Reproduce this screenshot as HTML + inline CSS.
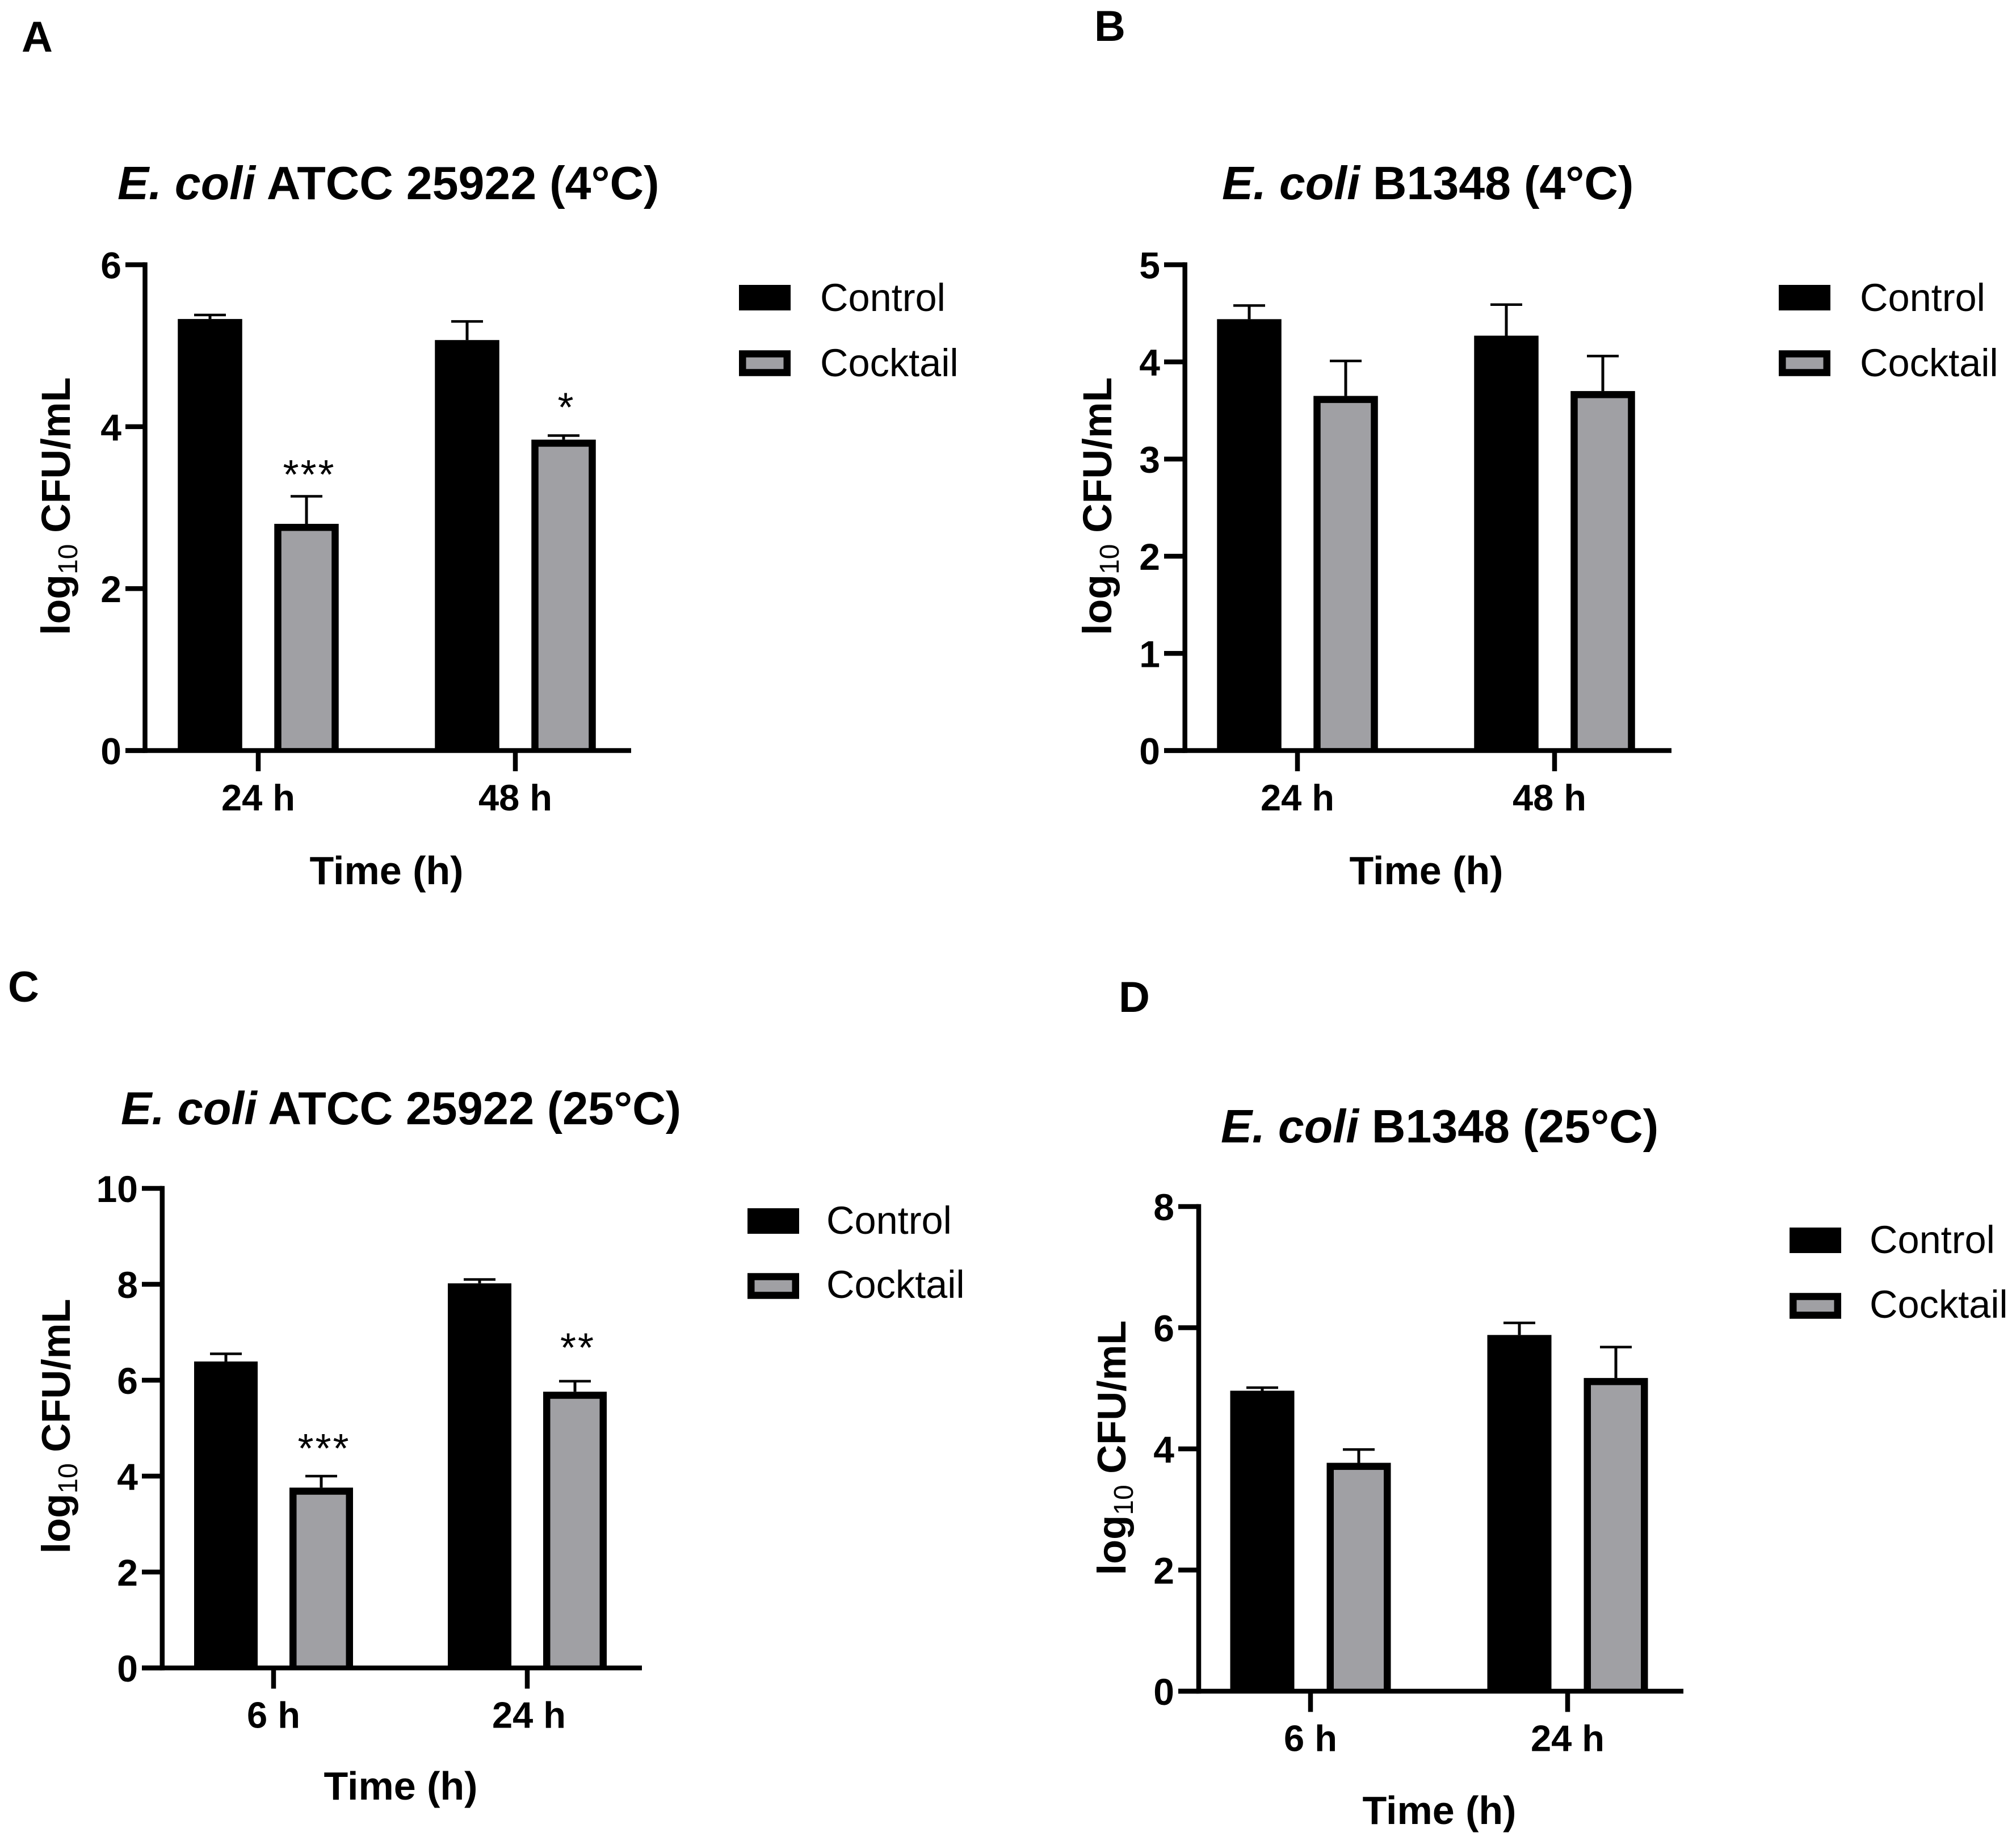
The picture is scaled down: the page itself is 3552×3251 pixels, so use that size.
<!DOCTYPE html>
<html lang="en">
<head>
<meta charset="utf-8">
<title>E. coli CFU counts under control and cocktail treatment</title>
<style>
  html, body { margin: 0; padding: 0; background: #fff; }
  svg { display: block; }
  text { font-family: "Liberation Sans", Arial, sans-serif; fill: #000; }
  .letter { font-size: 76px; font-weight: 700; }
  .title { font-size: 82.5px; font-weight: 700; }
  .axis-title { font-size: 70px; font-weight: 700; }
  .y-title { font-size: 71.5px; font-weight: 700; }
  .legend-text { font-size: 68.5px; font-weight: 400; }
</style>
</head>
<body>
<svg id="figure" xmlns="http://www.w3.org/2000/svg" width="3552" height="3251" viewBox="0 0 3552 3251">
  <rect x="0" y="0" width="3552" height="3251" fill="#ffffff"/>

  <!-- Panel A -->
  <g id="panel-a">
    <text class="letter" x="38" y="91">A</text>
    <text class="title" x="207" y="351"><tspan font-style="italic">E. coli</tspan> ATCC 25922 (4°C)</text>
    <text class="y-title" transform="translate(123,892) rotate(-90)" text-anchor="middle">log<tspan font-size="48" font-weight="400" dy="13">10</tspan><tspan dy="-13"> CFU/mL</tspan></text>
    <text class="axis-title" x="681" y="1558" text-anchor="middle">Time (h)</text>
    <rect x="1302" y="502" width="91" height="45" fill="#000"/>
    <text class="legend-text" x="1445" y="548">Control</text>
    <rect x="1308.25" y="623.5" width="78.5" height="33" fill="#a0a0a4" stroke="#000" stroke-width="12.5"/>
    <text class="legend-text" x="1445" y="663">Cocktail</text>
  </g>

  <!-- Panel B -->
  <g id="panel-b">
    <text class="letter" x="1928" y="72">B</text>
    <text class="title" x="2153" y="351"><tspan font-style="italic">E. coli</tspan> B1348 (4°C)</text>
    <text class="y-title" transform="translate(1958,892) rotate(-90)" text-anchor="middle">log<tspan font-size="48" font-weight="400" dy="13">10</tspan><tspan dy="-13"> CFU/mL</tspan></text>
    <text class="axis-title" x="2513" y="1558" text-anchor="middle">Time (h)</text>
    <rect x="3134" y="502" width="91" height="45" fill="#000"/>
    <text class="legend-text" x="3277" y="548">Control</text>
    <rect x="3140.25" y="623.5" width="78.5" height="33" fill="#a0a0a4" stroke="#000" stroke-width="12.5"/>
    <text class="legend-text" x="3277" y="663">Cocktail</text>
  </g>

  <!-- Panel C -->
  <g id="panel-c">
    <text class="letter" x="14" y="1765">C</text>
    <text class="title" x="213" y="1981" style="font-size:81.4px"><tspan font-style="italic">E. coli</tspan> ATCC 25922 (25°C)</text>
    <text class="y-title" transform="translate(123,2513) rotate(-90)" text-anchor="middle" style="font-size:70.5px">log<tspan font-size="48" font-weight="400" dy="13">10</tspan><tspan dy="-13"> CFU/mL</tspan></text>
    <text class="axis-title" x="706" y="3171" text-anchor="middle">Time (h)</text>
    <rect x="1317" y="2129" width="91" height="45" fill="#000"/>
    <text class="legend-text" x="1456" y="2174">Control</text>
    <rect x="1323.25" y="2249.5" width="78.5" height="33" fill="#a0a0a4" stroke="#000" stroke-width="12.5"/>
    <text class="legend-text" x="1456" y="2287">Cocktail</text>
  </g>

  <!-- Panel D -->
  <g id="panel-d">
    <text class="letter" x="1971" y="1783">D</text>
    <text class="title" x="2151" y="2013"><tspan font-style="italic">E. coli</tspan> B1348 (25°C)</text>
    <text class="y-title" transform="translate(1983,2551) rotate(-90)" text-anchor="middle" style="font-size:70.5px">log<tspan font-size="48" font-weight="400" dy="13">10</tspan><tspan dy="-13"> CFU/mL</tspan></text>
    <text class="axis-title" x="2536" y="3214" text-anchor="middle">Time (h)</text>
    <rect x="3153" y="2163" width="91" height="45" fill="#000"/>
    <text class="legend-text" x="3294" y="2208">Control</text>
    <rect x="3159.25" y="2284.5" width="78.5" height="33" fill="#a0a0a4" stroke="#000" stroke-width="12.5"/>
    <text class="legend-text" x="3294" y="2322">Cocktail</text>
  </g>
</svg>

<script>
// ---- Chart data (log10 CFU/mL) ----
const panelATimes = ['24 h', '48 h'];
const panelAYTicks = [0, 2, 4, 6];
const panelAControl = [5.33, 5.07];
const panelAControlErr = [0.05, 0.23];
const panelACocktail = [2.80, 3.84];
const panelACocktailErr = [0.34, 0.05];
const panelASignificance = ['***', '*'];
const panelASignificanceLevel = [3.6, 4.43];

const panelBTimes = ['24 h', '48 h'];
const panelBYTicks = [0, 1, 2, 3, 4, 5];
const panelBControl = [4.44, 4.27];
const panelBControlErr = [0.14, 0.32];
const panelBCocktail = [3.65, 3.70];
const panelBCocktailErr = [0.36, 0.36];
const panelBSignificance = ['', ''];
const panelBSignificanceLevel = [0, 0];

const panelCTimes = ['6 h', '24 h'];
const panelCYTicks = [0, 2, 4, 6, 8, 10];
const panelCControl = [6.39, 8.02];
const panelCControlErr = [0.16, 0.08];
const panelCCocktail = [3.76, 5.76];
const panelCCocktailErr = [0.24, 0.22];
const panelCSignificance = ['***', '**'];
const panelCSignificanceLevel = [4.9, 7.0];

const panelDTimes = ['6 h', '24 h'];
const panelDYTicks = [0, 2, 4, 6, 8];
const panelDControl = [4.96, 5.88];
const panelDControlErr = [0.05, 0.20];
const panelDCocktail = [3.77, 5.17];
const panelDCocktailErr = [0.22, 0.51];
const panelDSignificance = ['', ''];
const panelDSignificanceLevel = [0, 0];

// ---- Drawing ----
const SVG_NS = 'http://www.w3.org/2000/svg';
const GREY = '#a0a0a4';
const AXIS_W = 8.5;
const BORDER = 12.5;
const CAP_W = 56;

function make(parent, tag, attrs) {
  const el = document.createElementNS(SVG_NS, tag);
  for (const k in attrs) el.setAttribute(k, attrs[k]);
  parent.appendChild(el);
  return el;
}

function drawPanel(parent, prefix, frame, times, yTicks, control, controlErr, cocktail, cocktailErr, sig, sigLevel) {
  const yMax = yTicks[yTicks.length - 1];
  const yScale = v => frame.baseY + (frame.topY - frame.baseY) * (v / yMax);
  const xTick = i => frame.firstTick + i * frame.step;

  const yAxis = make(parent, 'rect', { x: frame.axisX - AXIS_W / 2, y: frame.topY - AXIS_W / 2, width: AXIS_W, height: frame.baseY - frame.topY + AXIS_W, fill: '#000' });
  
  

  yTicks.forEach(function (t) {
    const y = yScale(t);
    const tick = make(parent, 'rect', { x: frame.startX, y: y - AXIS_W / 2, width: frame.axisX - frame.startX, height: AXIS_W, fill: '#000' });
    
    
    const label = make(parent, 'text', { x: frame.startX - 7, y: y + 24, 'text-anchor': 'end', 'font-size': 66, 'font-weight': 700 });
    label.textContent = String(t);
    
    
  });

  times.forEach(function (name, i) {
    const x = xTick(i);
    const tick = make(parent, 'rect', { x: x - AXIS_W / 2, y: frame.baseY, width: AXIS_W, height: 36.5, fill: '#000' });
    
    

    const label = make(parent, 'text', { x: x + (i === 1 ? frame.secondLabelShift : 0), y: frame.baseY + 105.5, 'text-anchor': 'middle', 'font-size': 65, 'font-weight': 700 });
    label.textContent = name;
    
    

    // control bar
    const cx1 = x - frame.offset;
    const top1 = yScale(control[i]);
    const errTop1 = yScale(control[i] + controlErr[i]);
    const stem1 = make(parent, 'line', { x1: cx1, x2: cx1, y1: errTop1, y2: top1, stroke: '#000', 'stroke-width': 5 });
    
    
    const cap1 = make(parent, 'line', { x1: cx1 - CAP_W / 2, x2: cx1 + CAP_W / 2, y1: errTop1, y2: errTop1, stroke: '#000', 'stroke-width': 4.5 });
    
    
    const bar1 = make(parent, 'rect', { x: cx1 - frame.barW / 2, y: top1, width: frame.barW, height: frame.baseY - top1, fill: '#000' });
    
    

    // cocktail bar: black outline rect with a grey fill rect reaching down to the top of the x axis
    const cx2 = x + frame.offset;
    const top2 = yScale(cocktail[i]);
    const errTop2 = yScale(cocktail[i] + cocktailErr[i]);
    const stem2 = make(parent, 'line', { x1: cx2, x2: cx2, y1: errTop2, y2: top2, stroke: '#000', 'stroke-width': 5 });
    
    
    const cap2 = make(parent, 'line', { x1: cx2 - CAP_W / 2, x2: cx2 + CAP_W / 2, y1: errTop2, y2: errTop2, stroke: '#000', 'stroke-width': 4.5 });
    
    
    const bar2 = make(parent, 'rect', { x: cx2 - frame.barW / 2, y: top2, width: frame.barW, height: frame.baseY - top2, fill: '#000' });
    
    
    const fill2 = make(parent, 'rect', { x: cx2 - frame.barW / 2 + BORDER, y: top2 + BORDER, width: frame.barW - 2 * BORDER, height: Math.max(0, frame.baseY - AXIS_W / 2 - top2 - BORDER), fill: GREY });
    
    

    // significance stars
    if (sig[i]) {
      const star = make(parent, 'text', { x: cx2 + 5, y: yScale(sigLevel[i]) + 52, 'text-anchor': 'middle', 'font-size': 72, 'letter-spacing': 3 });
      star.textContent = sig[i];
      
      
    }
  });

  const xAxis = make(parent, 'rect', { x: frame.startX, y: frame.baseY - AXIS_W / 2, width: frame.endX - frame.startX, height: AXIS_W, fill: '#000' });
  
  
}

drawPanel(document.getElementById('panel-a'), 'panel-a',
  { axisX: 255.5, baseY: 1322.5, topY: 466.5, startX: 221, endX: 1112, firstTick: 455, step: 453, offset: 85, barW: 113.5, secondLabelShift: 0 },
  panelATimes, panelAYTicks, panelAControl, panelAControlErr, panelACocktail, panelACocktailErr, panelASignificance, panelASignificanceLevel);

drawPanel(document.getElementById('panel-b'), 'panel-b',
  { axisX: 2087.7, baseY: 1322.5, topY: 466.5, startX: 2051, endX: 2945, firstTick: 2286, step: 453, offset: 85, barW: 113.5, secondLabelShift: -9 },
  panelBTimes, panelBYTicks, panelBControl, panelBControlErr, panelBCocktail, panelBCocktailErr, panelBSignificance, panelBSignificanceLevel);

drawPanel(document.getElementById('panel-c'), 'panel-c',
  { axisX: 285.8, baseY: 2939, topY: 2094, startX: 250, endX: 1131, firstTick: 482, step: 447, offset: 84, barW: 112, secondLabelShift: 3 },
  panelCTimes, panelCYTicks, panelCControl, panelCControlErr, panelCCocktail, panelCCocktailErr, panelCSignificance, panelCSignificanceLevel);

drawPanel(document.getElementById('panel-d'), 'panel-d',
  { axisX: 2112, baseY: 2980, topY: 2126, startX: 2076, endX: 2966, firstTick: 2309, step: 453, offset: 85, barW: 113, secondLabelShift: 0 },
  panelDTimes, panelDYTicks, panelDControl, panelDControlErr, panelDCocktail, panelDCocktailErr, panelDSignificance, panelDSignificanceLevel);
</script>
</body>
</html>
